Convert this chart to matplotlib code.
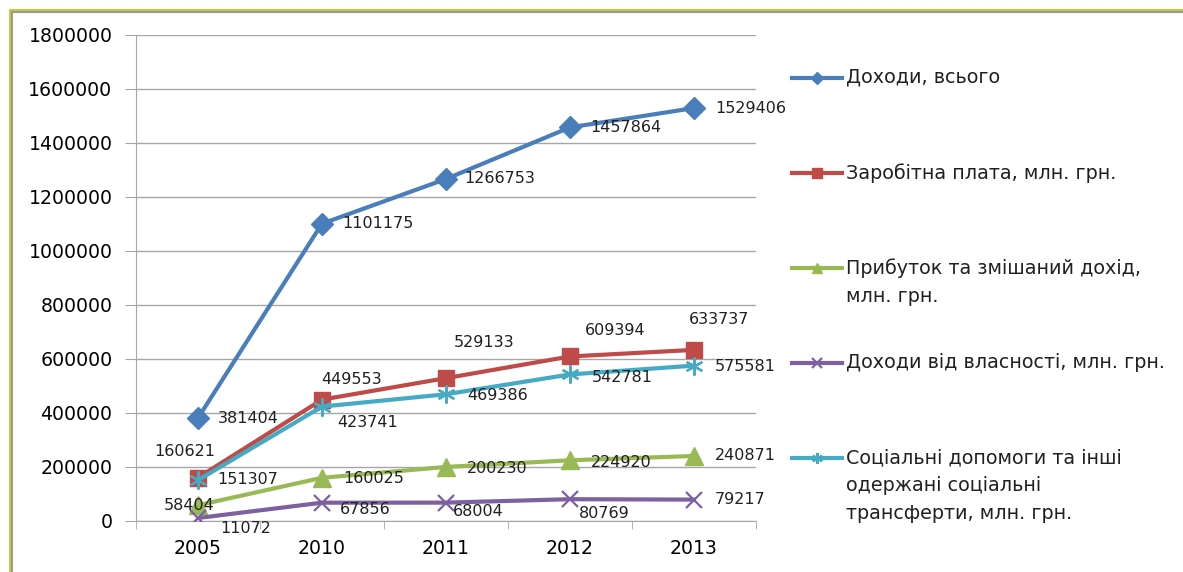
import matplotlib.pyplot as plt
from matplotlib.lines import Line2D

# data to plot
years = ['2005', '2010', '2011', '2012', '2013']

total = [381404, 1101175, 1266753, 1457864, 1529406]
wages = [160621, 449553, 529133, 609394, 633737]
profit = [58404, 160025, 200230, 224920, 240871]
property_inc = [11072, 67856, 68004, 80769, 79217]
social = [151307, 423741, 469386, 542781, 575581]

labels = ['Доходи, всього',
          'Заробітна плата, млн. грн.',
          'Прибуток та змішаний дохід,\nмлн. грн.',
          'Доходи від власності, млн. грн.',
          'Соціальні допомоги та інші\nодержані соціальні\nтрансферти, млн. грн.']

plt.rcParams['font.family'] = ['DejaVu Sans']

W, H = 1183, 572
fig = plt.figure(figsize=(W / 100, H / 100), dpi=100)
ax = fig.add_axes([136 / W, 1 - 521 / H, (756 - 136) / W, (521 - 35) / H])

x = list(range(len(years)))

series = [
    (total, '#4A7EBB', dict(marker='D', markersize=11)),
    (wages, '#BE4B48', dict(marker='s', markersize=12)),
    (profit, '#98B954', dict(marker='^', markersize=13)),
    (property_inc, '#7D60A0', dict(marker='x', markersize=11, markeredgewidth=1.6)),
    (social, '#46AAC5', dict(marker=(6, 2, 0), markersize=13, markeredgewidth=1.6)),
]

for vals, col, mk in series:
    ax.plot(x, vals, color=col, linewidth=3, markerfacecolor=col,
            markeredgecolor=col, **mk, zorder=3)

# label offsets in pixels (dx, dy); wages labels are centred, rest left aligned
lab_off = [
    [(20, 0), (20, 0), (18, 0), (20, 0), (21, 0)],
    [(-13, 26), (30, 20), (38, 36), (45, 26), (25, 30)],
    [(-9, 0), (21, -1), (21, -2), (21, -2), (21, 0)],
    [(22, -10), (18, -7), (7, -9), (9, -14), (21, 0)],
    [(19, 1), (15, -16), (21, -1), (22, -3), (21, -1)],
]
centered = {(1, 0), (1, 1), (1, 2), (1, 3), (1, 4), (2, 0)}

for si, (vals, col, mk) in enumerate(series):
    for i, v in enumerate(vals):
        dx, dy = lab_off[si][i]
        ha = 'center' if (si, i) in centered else 'left'
        ax.annotate(str(v), (i, v), xytext=(dx, dy), textcoords='offset pixels',
                    ha=ha, va='center', fontsize=11.5, color='#202020', zorder=4)

ax.set_xlim(-0.5, 4.5)
ax.set_ylim(0, 1800000)
ax.set_yticks(range(0, 1800001, 200000))
ax.set_yticklabels([str(t) for t in range(0, 1800001, 200000)], fontsize=13.6)
ax.set_xticks(x)
ax.set_xticklabels(years, fontsize=13.6)
ax.set_xticks([-0.5, 0.5, 1.5, 2.5, 3.5, 4.5], minor=True)
ax.tick_params(axis='x', which='major', length=0, pad=13)
ax.tick_params(axis='x', which='minor', length=6, color='#a6a6a6')
ax.tick_params(axis='y', length=8, color='#a6a6a6', pad=9)
ax.grid(axis='y', color='#a6a6a6', linewidth=1)
ax.set_axisbelow(True)
for s in ['top', 'right']:
    ax.spines[s].set_visible(False)
for s in ['left', 'bottom']:
    ax.spines[s].set_color('#a6a6a6')

# legend drawn by hand to keep multi-line labels top aligned
for i, (vals, col, mk) in enumerate(series):
    yc = 1 - (78 + 95 * i) / H
    fig.add_artist(Line2D([792 / W, 842 / W], [yc, yc], color=col, linewidth=3,
                          transform=fig.transFigure))
    mk2 = dict(mk)
    mk2['markersize'] = mk['markersize'] * 0.6
    fig.add_artist(Line2D([817 / W], [yc], color=col, markerfacecolor=col,
                          markeredgecolor=col, linestyle='none', **mk2,
                          transform=fig.transFigure))
    fig.text(846 / W, yc + 10 / H, labels[i], fontsize=13.8, va='top', ha='left',
             color='#202020', linespacing=1.6)

# outer frame (top and left edges only)
fig.add_artist(Line2D([10 / W, 1], [1 - 10 / H, 1 - 10 / H], color='#c8c83c',
                      linewidth=1.5, transform=fig.transFigure))
fig.add_artist(Line2D([10 / W, 1], [1 - 12 / H, 1 - 12 / H], color='#9a9a9a',
                      linewidth=1.5, transform=fig.transFigure))
fig.add_artist(Line2D([10 / W, 10 / W], [0, 1 - 10 / H], color='#c8c83c',
                      linewidth=1.5, transform=fig.transFigure))
fig.add_artist(Line2D([12 / W, 12 / W], [0, 1 - 12 / H], color='#9a9a9a',
                      linewidth=1.5, transform=fig.transFigure))

fig.savefig('out.png', dpi=100)
